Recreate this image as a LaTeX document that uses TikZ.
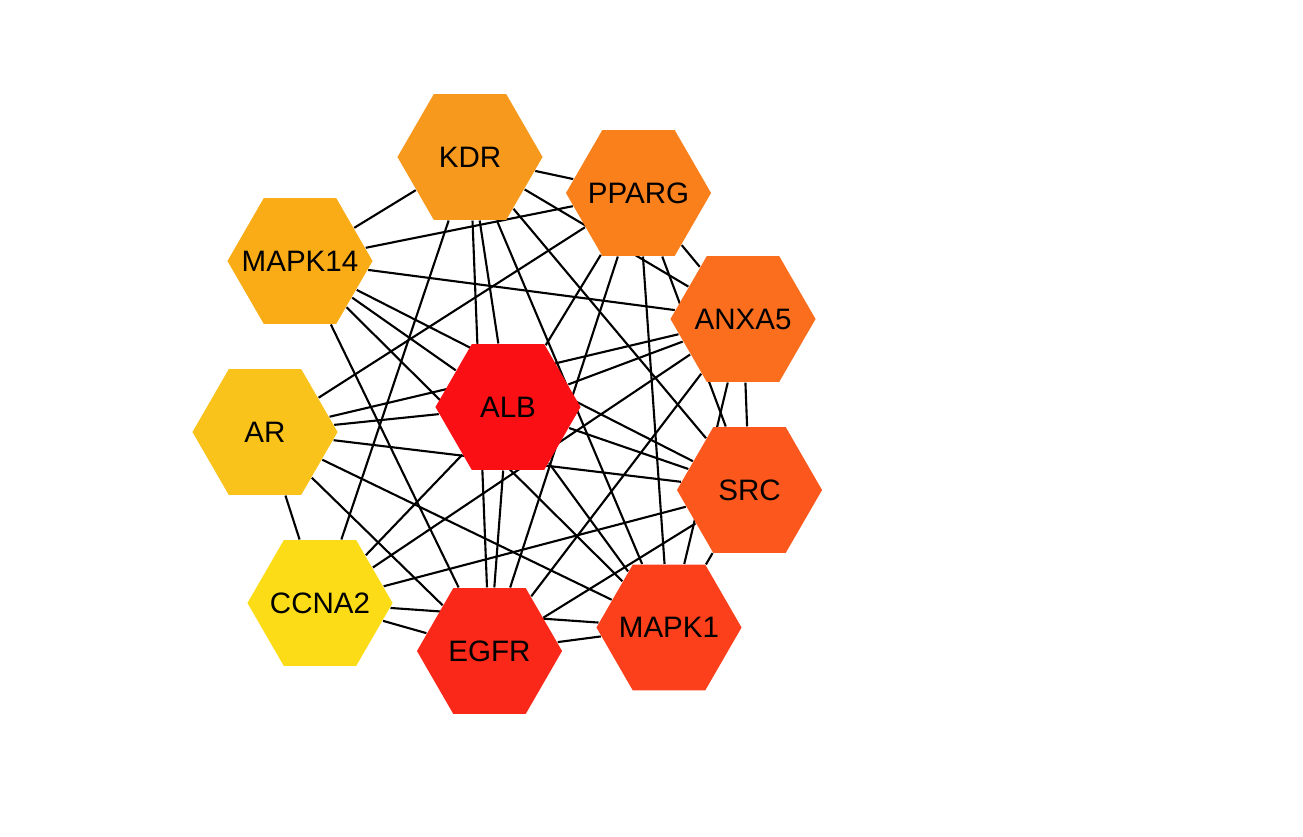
\documentclass[tikz,border=0pt]{standalone}
\usepackage{fontspec}
\setmainfont{Liberation Sans}
\usetikzlibrary{shapes.geometric,backgrounds}
\definecolor{kdr}{RGB}{247,153,29}
\definecolor{pparg}{RGB}{249,128,27}
\definecolor{mapkfourteen}{RGB}{250,172,22}
\definecolor{anxa}{RGB}{250,110,30}
\definecolor{ar}{RGB}{250,195,27}
\definecolor{alb}{RGB}{250,15,20}
\definecolor{src}{RGB}{252,88,30}
\definecolor{ccna}{RGB}{252,220,22}
\definecolor{egfr}{RGB}{250,40,25}
\definecolor{mapkone}{RGB}{252,64,27}
\begin{document}
\begin{tikzpicture}[x=0.01cm,y=-0.01cm,
  main node/.style={regular polygon,regular polygon sides=6,minimum size=1.45cm,inner sep=0pt,
    font=\fontsize{8.4}{10}\selectfont,
    execute at begin node={\hbox to 0pt\bgroup\hss},execute at end node={\hss\egroup}}]
  \useasboundingbox (0,0) rectangle (1303,836);

  \node[main node,fill=kdr] (1) at (470,157) {KDR};
  \node[main node,fill=pparg] (2) at (638.5,193) {PPARG};
  \node[main node,fill=mapkfourteen] (3) at (300,261) {MAPK14};
  \node[main node,fill=anxa] (4) at (743,319) {ANXA5};
  \node[main node,fill=ar] (5) at (265,432) {AR};
  \node[main node,fill=alb] (6) at (508,407) {ALB};
  \node[main node,fill=src] (7) at (749.5,490) {SRC};
  \node[main node,fill=ccna] (8) at (320,603) {CCNA2};
  \node[main node,fill=egfr] (9) at (489.5,651) {EGFR};
  \node[main node,fill=mapkone] (10) at (669,627.5) {MAPK1};

  \begin{pgfonlayer}{background}
  \path[every edge/.style={draw,line width=0.6pt}]
   (1) edge (2) (1) edge (3) (1) edge (4) (1) edge (6)
   (1) edge (7) (1) edge (8) (1) edge (9) (1) edge (10)
   (2) edge (3) (2) edge (4) (2) edge (5) (2) edge (6)
   (2) edge (7) (2) edge (9) (2) edge (10)
   (3) edge (4) (3) edge (6) (3) edge (7) (3) edge (9) (3) edge (10)
   (4) edge (5) (4) edge (6) (4) edge (7) (4) edge (8) (4) edge (9) (4) edge (10)
   (5) edge (6) (5) edge (7) (5) edge (8) (5) edge (9) (5) edge (10)
   (6) edge (7) (6) edge (8) (6) edge (9) (6) edge (10)
   (7) edge (8) (7) edge (9) (7) edge (10)
   (8) edge (9) (8) edge (10)
   (9) edge (10);
  \end{pgfonlayer}
\end{tikzpicture}
\end{document}
